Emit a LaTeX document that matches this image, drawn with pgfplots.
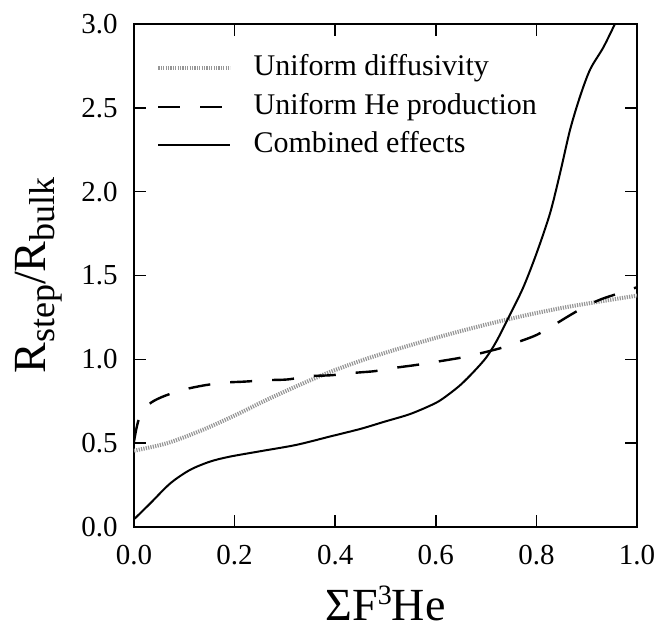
\documentclass[border=0pt]{standalone}
\usepackage{fontspec}
\setmainfont{Liberation Serif}
\usepackage{pgfplots}
\pgfplotsset{compat=1.18}
\definecolor{dotgray}{RGB}{150,150,150}

\begin{document}
\begin{tikzpicture}
\path[use as bounding box] (-67pt,-51pt) rectangle (261.5pt,263.5pt);
\begin{axis}[
    at={(0,0)}, anchor=south west,
    width=251.5pt, height=251.5pt, scale only axis,
    xmin=0, xmax=1, ymin=0, ymax=3,
    xtick={0,0.2,0.4,0.6,0.8,1.0},
    ytick={0,0.5,1.0,1.5,2.0,2.5,3.0},
    tick align=inside,
    major tick length=6pt,
    tick style={line width=0.8pt, black},
    axis line style={line width=1.3pt},
    /pgf/number format/fixed,
    /pgf/number format/fixed zerofill,
    /pgf/number format/precision=1,
    /pgf/number format/assume math mode=true,
    ticklabel style={font=\fontsize{14.5}{17}\selectfont},
    xticklabel style={inner sep=0pt, anchor=north, yshift=-9pt},
    yticklabel style={inner sep=0pt, anchor=east, xshift=-8pt},
    xlabel={ΣF\raisebox{8pt}{\fontsize{14}{14}\selectfont 3}He},
    ylabel={R\raisebox{-4.5pt}{\fontsize{18}{18}\selectfont step}/R\raisebox{-4.5pt}{\fontsize{18}{18}\selectfont bulk}},
    xlabel style={font=\fontsize{23}{27}\selectfont, inner sep=0pt,
        at={(axis description cs:0.5,-0.1849)}, anchor=base},
    ylabel style={font=\fontsize{23}{27}\selectfont, inner sep=0pt,
        at={(axis description cs:-0.2366,0.5)}, anchor=north, rotate=0},
    legend style={draw=none, fill=none, at={(axis description cs:0,1)},
        anchor=north west, xshift=8pt, yshift=-11.5pt,
        font=\fontsize{15}{18}\selectfont,
        nodes={inner sep=1.6pt, text height=10.5pt, text depth=3pt},
        column sep=9pt, row sep=2.6pt},
    legend cell align=left,
    legend image code/.code={\draw[#1] (0pt,0pt) -- (36pt,0pt);},
]

% uniform diffusivity
\addplot[dotgray, line width=2pt, dash pattern=on 0.6pt off 0.6pt, smooth] coordinates {
    (0,0.455) (0.066,0.50) (0.133,0.575) (0.2,0.665) (0.265,0.76) (0.331,0.85)
    (0.39,0.925) (0.456,0.997) (0.52,1.058) (0.588,1.118) (0.654,1.172)
    (0.72,1.222) (0.787,1.268) (0.853,1.308) (0.92,1.342) (1.0,1.38)
};

% uniform He production
\addplot[black, line width=1.2pt, dash pattern=on 11pt off 10pt, smooth] coordinates {
    (0,0.51) (0.005,0.59) (0.012,0.66) (0.030,0.733) (0.056,0.776) (0.096,0.817)
    (0.136,0.843) (0.179,0.861) (0.219,0.867) (0.265,0.876) (0.305,0.88)
    (0.351,0.90) (0.391,0.905) (0.44,0.92) (0.48,0.93) (0.52,0.95) (0.56,0.966)
    (0.6,0.985) (0.65,1.01) (0.69,1.037) (0.73,1.068) (0.765,1.105) (0.8,1.145)
    (0.835,1.205) (0.865,1.26) (0.9,1.32) (0.93,1.36) (0.96,1.39) (1.0,1.43)
};

% combined effects
\addplot[black, line width=1pt, smooth] coordinates {
    (0,0.046) (0.032,0.14) (0.072,0.26) (0.111,0.34) (0.151,0.39) (0.191,0.42)
    (0.257,0.455) (0.323,0.49) (0.39,0.54) (0.45,0.585) (0.5,0.63)
    (0.55,0.675) (0.6,0.74) (0.625,0.79) (0.65,0.85) (0.675,0.925)
    (0.70,1.01) (0.721,1.11) (0.748,1.27) (0.774,1.43) (0.80,1.63)
    (0.827,1.87) (0.847,2.11) (0.867,2.37) (0.887,2.57) (0.907,2.73)
    (0.933,2.86) (0.956,3.0)
};

\legend{Uniform diffusivity, Uniform He production, Combined effects}
\end{axis}
\end{tikzpicture}
\end{document}
